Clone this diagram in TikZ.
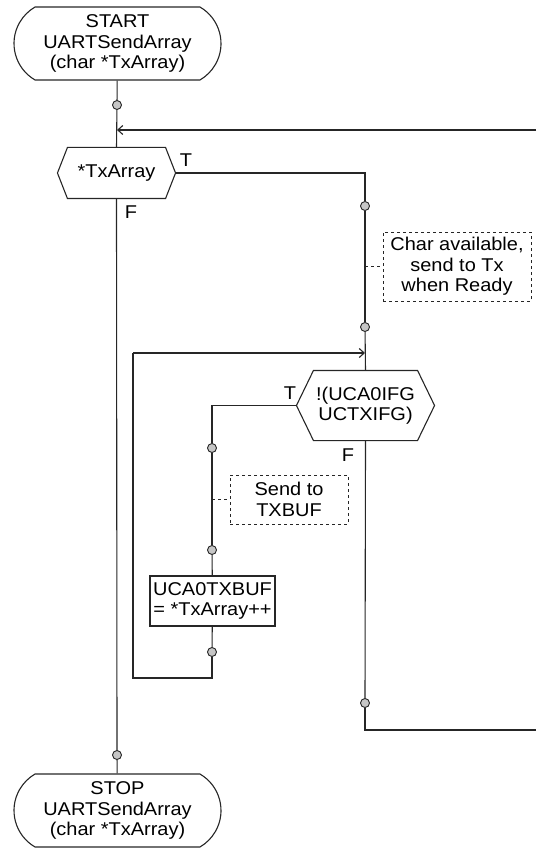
\documentclass[tikz,border=0pt]{standalone}
\usepackage{fontspec}
\setmainfont{Liberation Sans}[FakeStretch=1.08]
\usetikzlibrary{shapes.misc,arrows.meta}
\newcommand\hexpath[2]{\draw (#1.west) -- ([xshift=#2]#1.north west) -- ([xshift=-#2]#1.north east) -- (#1.east) -- ([xshift=-#2]#1.south east) -- ([xshift=#2]#1.south west) -- cycle;}
\begin{document}
\begin{tikzpicture}[x=1pt,y=-1pt,line width=1.1pt,color=black!85,
  every node/.style={font=\fontsize{18.5}{20.5}\selectfont, inner sep=0pt, text=black},
  term/.style={draw, rounded rectangle, rounded rectangle arc length=120, minimum width=207pt, minimum height=73pt, align=center},
  dec/.style={minimum width=#1, align=center},
  procbox/.style={draw, rectangle, minimum width=125pt, minimum height=50pt, align=center},
  note/.style={draw, dashed, dash pattern=on 3pt off 3pt, line width=0.9pt, align=center},
  noteline/.style={dashed, dash pattern=on 3pt off 3pt, line width=0.9pt},
  dot/.style={circle, draw, fill=gray!45, minimum size=9pt, line width=0.9pt},
  arr/.style={-{Straight Barb[length=5pt,width=9pt]}}]
\useasboundingbox (0,0) rectangle (536,850);

\node[term] (start) at (117.5,43.5) {START\\UARTSendArray\\(char *TxArray)};
\node[dot] (c1) at (117,105) {};
\coordinate (m1) at (117,130);
\coordinate (r1) at (536,130);
\node[dec=117pt, minimum height=50pt] (d1) at (116.5,173) {*TxArray};
\hexpath{d1}{10pt}
\node (t1) at (186,160) {T};
\node (f1) at (131,212) {F};
\coordinate (k1) at (365,173);
\node[dot] (c2) at (365,206) {};
\node[note, minimum width=148pt, minimum height=69pt] (n1) at (457,266.5) {Char available,\\send to Tx\\when Ready};
\coordinate (j1) at (365,266.5);
\node[dot] (c3) at (365,327) {};
\coordinate (m2) at (365,353);
\node[dec=137pt, minimum height=69pt] (d2) at (365.5,405.5) {!(UCA0IFG\\UCTXIFG)};
\hexpath{d2}{17pt}
\node (t2) at (290,393) {T};
\node (f2) at (348,455) {F};
\coordinate (k2) at (212,405.5);
\node[dot] (c4) at (212,448) {};
\node[note, minimum width=118pt, minimum height=49pt] (n2) at (289,499.5) {Send to\\TXBUF};
\coordinate (j2) at (212,499.5);
\node[dot] (c5) at (212,550) {};
\node[procbox] (b1) at (212.5,601) {UCA0TXBUF\\= *TxArray++};
\node[dot] (c6) at (212,652) {};
\coordinate (l1) at (212,678);
\coordinate (l2) at (133,678);
\coordinate (l3) at (133,353);
\node[dot] (c7) at (365,703) {};
\coordinate (e2) at (365,730);
\coordinate (r2) at (536,730);
\node[dot] (c8) at (117,755) {};
\node[term] (stop) at (117.5,810.5) {STOP\\UARTSendArray\\(char *TxArray)};

\draw (start) -- (c1);
\draw (c1) -- (d1.north);
\draw[arr] (r1) -- (m1);
\draw (d1.east) -- (k1) -- (c2);
\draw (c2) -- (c3);
\draw (c3) -- (d2.north);
\draw[noteline] (j1) -- (n1.west);
\draw (d2.west) -- (k2) -- (c4);
\draw (c4) -- (c5);
\draw[noteline] (j2) -- (n2.west);
\draw (c5) -- (b1);
\draw (b1) -- (c6);
\draw (c6) -- (l1) -- (l2) -- (l3);
\draw[arr] (l3) -- (m2);
\draw (d2.south) -- (c7);
\draw (c7) -- (e2) -- (r2);
\draw (d1.south) -- (c8);
\draw (c8) -- (stop);
\end{tikzpicture}
\end{document}
